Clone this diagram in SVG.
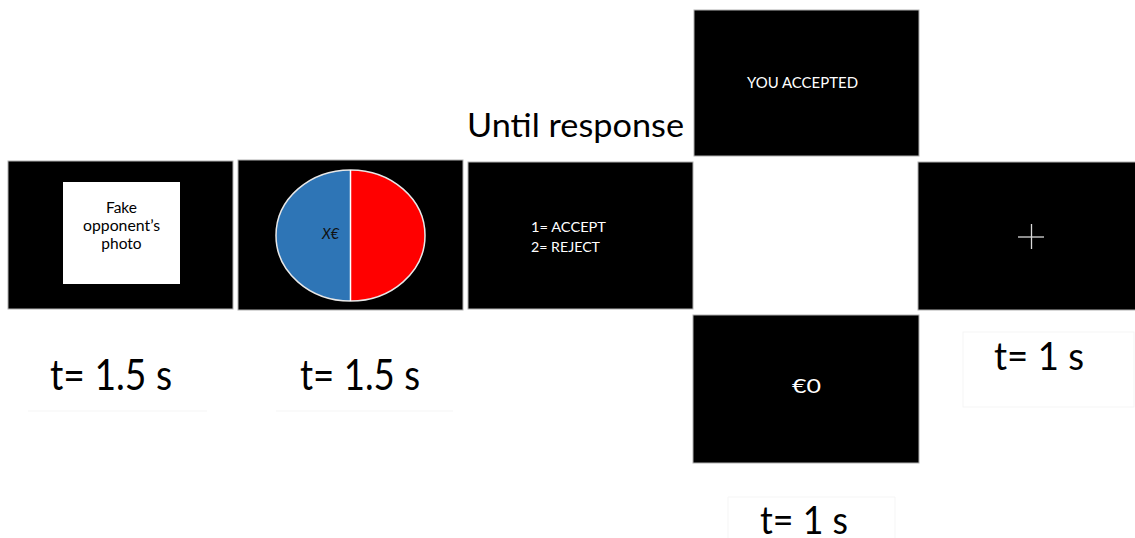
<svg xmlns="http://www.w3.org/2000/svg" width="1135" height="538" viewBox="0 0 1135 538">
<style>
.scr{fill:#000;stroke:#b0b0b0;stroke-width:1}
.w{fill:#ffffff;font-family:Lato,"Open Sans","Liberation Sans",sans-serif}
.k{fill:#000;font-family:Lato,"Open Sans","Liberation Sans",sans-serif}
.faint{fill:none;stroke:#f5f5f5;stroke-width:1}
</style>
<rect x="0" y="0" width="1135" height="538" fill="#ffffff"/>
<g id="faint-boxes">
<line class="faint" x1="28" y1="411" x2="207" y2="411"/>
<line class="faint" x1="276" y1="411" x2="453" y2="411"/>
<rect class="faint" x="963" y="332" width="171" height="75"/>
<path class="faint" d="M728 538 V497 H895 V538"/>
</g>
<g id="photo">
<rect class="scr" x="8" y="161" width="225" height="148"/>
<rect x="63" y="182" width="117" height="102" fill="#ffffff"/>
<text class="k" font-size="15.5" text-anchor="middle" x="121.5" y="213">Fake</text>
<text class="k" font-size="15.5" text-anchor="middle" x="121.5" y="231" textLength="77" lengthAdjust="spacingAndGlyphs">opponent’s</text>
<text class="k" font-size="15.5" text-anchor="middle" x="121.5" y="249">photo</text>
</g>
<g id="offer">
<rect class="scr" x="238" y="160" width="225" height="150"/>
<path d="M350.5 170 A74.5 65.5 0 0 0 350.5 301 Z" fill="#2E75B6"/>
<path d="M350.5 170 A74.5 65.5 0 0 1 350.5 301 Z" fill="#FF0000"/>
<ellipse cx="350.5" cy="235.5" rx="74.5" ry="65.5" fill="none" stroke="#e8e8e8" stroke-width="1.5"/>
<line x1="350.5" y1="170" x2="350.5" y2="301" stroke="#ffffff" stroke-width="1.5"/>
<text font-family="Lato,'Open Sans','Liberation Sans',sans-serif" font-size="14.5" font-style="italic" fill="#111111" x="322" y="239" textLength="17" lengthAdjust="spacingAndGlyphs">X€</text>
</g>
<g id="choice">
<rect class="scr" x="468" y="162" width="225" height="147"/>
<text class="w" font-size="13.5" x="531" y="232" textLength="75" lengthAdjust="spacingAndGlyphs" fill="#e6e6e6">1= ACCEPT</text>
<text class="w" font-size="13.5" x="531" y="252" textLength="69" lengthAdjust="spacingAndGlyphs" fill="#e6e6e6">2= REJECT</text>
</g>
<g id="until-label">
<text class="k" font-size="33" x="467" y="137" textLength="217" lengthAdjust="spacingAndGlyphs">Until response</text>
</g>
<g id="accepted">
<rect class="scr" x="694" y="10" width="225" height="146"/>
<text class="w" font-size="15" x="747" y="88" textLength="111" lengthAdjust="spacingAndGlyphs" fill="#e6e6e6">YOU ACCEPTED</text>
</g>
<g id="payoff">
<rect class="scr" x="693" y="315" width="226" height="148"/>
<text class="w" font-size="20" x="792" y="393" textLength="29" lengthAdjust="spacingAndGlyphs">€0</text>
</g>
<g id="fixation">
<rect class="scr" x="918" y="162" width="220" height="148"/>
<line x1="1018" y1="237" x2="1044" y2="237" stroke="#d9d9d9" stroke-width="1.3"/>
<line x1="1031.5" y1="224" x2="1031.5" y2="249" stroke="#d9d9d9" stroke-width="1.3"/>
</g>
<g id="timings">
<text class="k" font-size="43" x="50" y="390" textLength="122" lengthAdjust="spacingAndGlyphs">t= 1.5 s</text>
<text class="k" font-size="43" x="300" y="390" textLength="120" lengthAdjust="spacingAndGlyphs">t= 1.5 s</text>
<text class="k" font-size="39" x="994" y="370" textLength="90" lengthAdjust="spacingAndGlyphs">t= 1 s</text>
<text class="k" font-size="38" x="760" y="534" textLength="88" lengthAdjust="spacingAndGlyphs">t= 1 s</text>
</g>
<g id="connectors"></g>
</svg>
